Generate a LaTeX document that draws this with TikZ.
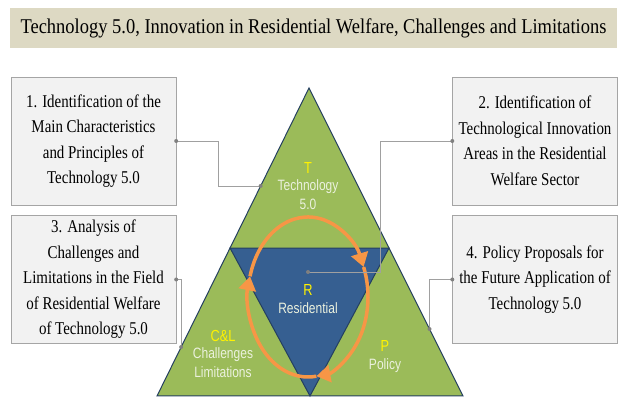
\documentclass[tikz,border=0pt]{standalone}
\usepackage{fontspec}
\setmainfont{Liberation Serif}
\setsansfont{Liberation Sans}
\newfontfamily\narrowserif[FakeStretch=0.83]{Liberation Serif}
\newfontfamily\titleserif[FakeStretch=0.88]{Liberation Serif}
\newfontfamily\narrowsans[FakeStretch=0.8]{Liberation Sans}
\usetikzlibrary{positioning}
\usetikzlibrary{calc}
\usetikzlibrary{arrows.meta}

\definecolor{titlebg}{HTML}{DDD9C3}
\definecolor{boxbg}{HTML}{F2F2F2}
\definecolor{boxline}{HTML}{A5A5A5}
\definecolor{trigreen}{HTML}{9BBB59}
\definecolor{triblue}{HTML}{365F91}
\definecolor{triline}{HTML}{243F60}
\definecolor{ringorange}{HTML}{F79646}
\definecolor{lighttext}{HTML}{EBF1DE}
\definecolor{linkgray}{HTML}{A0A0A0}

\begin{document}
\begin{tikzpicture}[x=1pt,y=1pt,
 box/.style={draw=boxline,fill=boxbg,minimum width=165pt,minimum height=128pt,
  align=center,inner sep=2pt,font=\narrowserif\fontsize{18}{25.5}\selectfont},
 link/.style={draw=linkgray,line width=0.8pt},
 lbl/.style={text=lighttext,align=center,font=\narrowsans\fontsize{15}{19}\selectfont},
 key/.style={text=yellow,font=\narrowsans\fontsize{16}{18}\selectfont},
 ring/.style={ringorange,line width=3.5pt,-{Triangle[length=14pt,width=17pt]}}]
\useasboundingbox (0,0) rectangle (621,398);

\node[fill=titlebg,minimum width=607pt,minimum height=40pt,
 font=\titleserif\fontsize{21}{23}\selectfont](title) at (313.5,370)
 {Technology 5.0, Innovation in Residential Welfare, Challenges and Limitations};

%%boxes
\node[box](B1) at (93.5,257){1. Identification of the\\Main Characteristics\\and Principles of\\Technology 5.0};
\node[box](B3) at (93.5,118.5){3. Analysis of\\Challenges and\\Limitations in the Field\\of Residential Welfare\\of Technology 5.0};
\node[box](B2) at (535,257){2. Identification of\\Technological Innovation\\Areas in the Residential\\Welfare Sector};
\node[box](B4) at (535,118.5){4. Policy Proposals for\\the Future Application of\\Technology 5.0};

%%triangle
\coordinate(A)at(309,310);
\coordinate(L)at(157,2);
\coordinate(R)at(463,2);
\coordinate(IL)at($(L)!0.4805!(A)$);
\coordinate(IR)at($(R)!0.4805!(A)$);
\coordinate(IB)at(310,2);
\draw[fill=trigreen,draw=triline,line width=1pt](L)--(A)--(R)--cycle;
\draw[fill=triblue,draw=triline,line width=1pt](IL)--(IR)--(IB)--cycle;

\node[key](T) at (308,230){T};
\node[lbl,below=-1pt of T](TL){Technology\\5.0};
\node[key](RS) at (308,108){R};
\node[lbl,below=0pt of RS](RL){Residential};
\node[key](CL) at (223,62){C\&L};
\node[lbl,below=-1pt of CL](CLL){Challenges\\Limitations};
\node[key](P) at (385,52){P};
\node[lbl,below=0pt of P](PL){Policy};

%ring
\coordinate(O)at(308,101);
\draw[ring]($(O)+(165:60 and 80)$) arc[start angle=165,end angle=22,x radius=60,y radius=80];
\draw[ring]($(O)+(22:60 and 80)$) arc[start angle=22,end angle=-82,x radius=60,y radius=80];
\draw[ring]($(O)+(-82:60 and 80)$) arc[start angle=-82,end angle=-195,x radius=60,y radius=80];

%links
\coordinate(C1)at($(L)!0.682!(A)$);
\coordinate(C2)at(308,126);
\coordinate(C3)at($(L)!0.159!(A)$);
\coordinate(C4)at($(R)!0.2175!(A)$);
\draw[link](B1.east)--++(42,0)|-(C1);
\draw[link](B2.west)--++(-72,0)|-(C2);
\draw[link](B3.east)-|(C3);
\draw[link](B4.west)-|(C4);
\foreach \p in {B1.east,B2.west,B3.east,B4.west,C1,C2,C3,C4}
\fill[linkgray!80!black](\p)circle(2pt);
\end{tikzpicture}
\end{document}
